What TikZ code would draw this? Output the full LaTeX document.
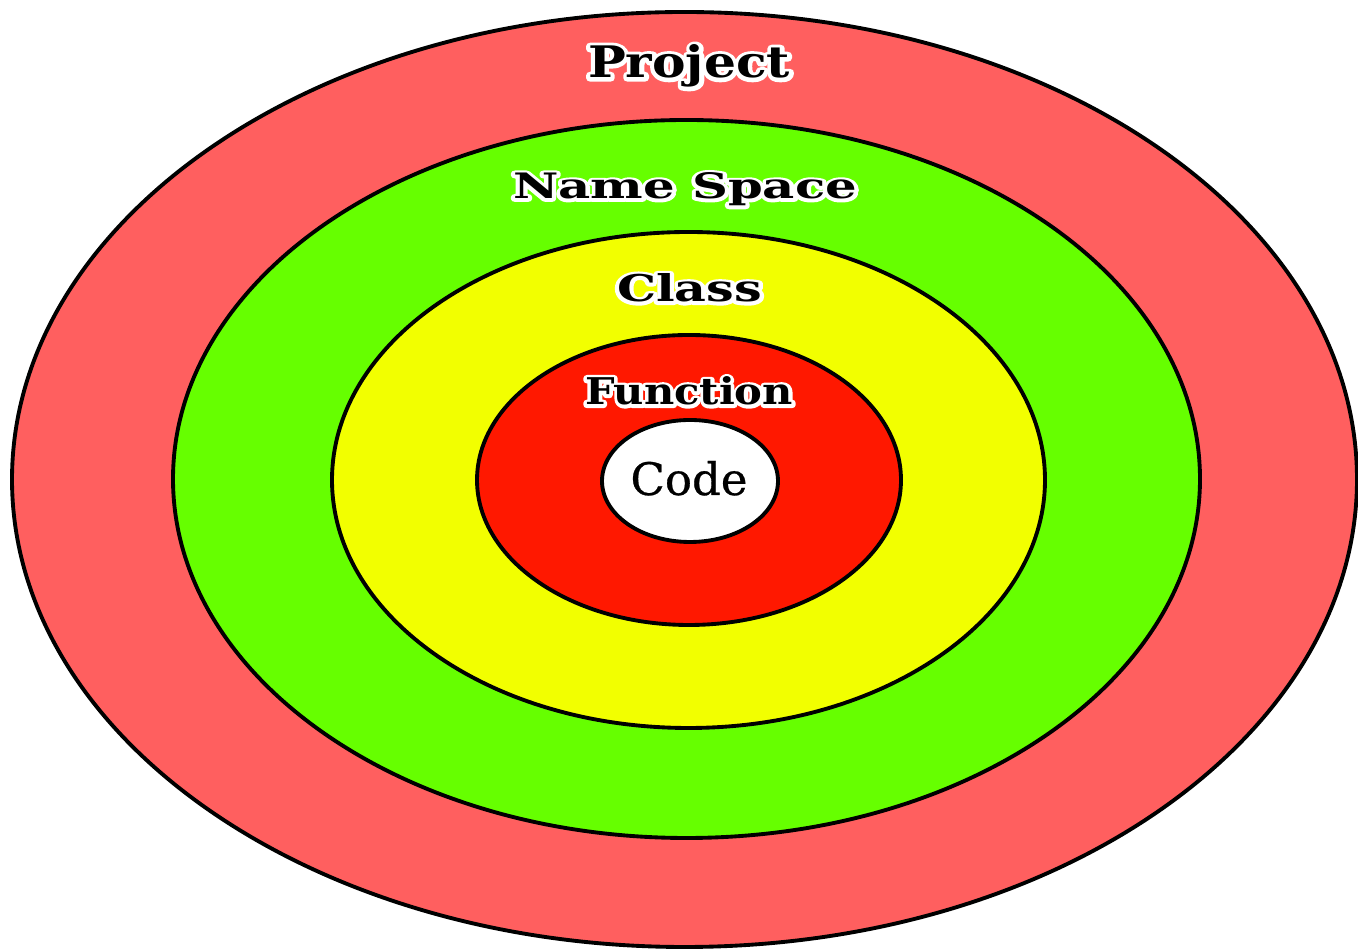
\documentclass[tikz,border=0pt]{standalone}
\usepackage{fontspec}
\setmainfont{DejaVu Serif}
\usetikzlibrary{shapes.geometric}
\definecolor{ringProject}{HTML}{FF5F5F}
\definecolor{ringSpace}{HTML}{66FF00}
\definecolor{ringClass}{HTML}{F2FF00}
\definecolor{ringFunction}{HTML}{FF1800}
\newsavebox\halobox
% white outlined copy (fill+stroke render mode) beneath the black text
\newcommand\haloed[1]{\setbox\halobox\hbox{#1}\leavevmode\rlap{\color{white}\special{pdf:literal direct q 2 Tr 1.7 w 1 j}\copy\halobox\special{pdf:literal direct Q}}\copy\halobox}
\tikzset{
  ring/.style={ellipse, draw=black, line width=1.1pt, inner sep=0pt, outer sep=0pt},
  ringlabel/.style={anchor=base, inner sep=0pt, text=black, font=\bfseries},
}
\begin{document}
\begin{tikzpicture}[x=0.1mm,y=-0.1mm]
\useasboundingbox (0,0) rectangle (1358,950);
\node[ring, fill=ringProject, minimum width=134.5mm, minimum height=93.5mm] (project) at (684.5,479.5) {};
\node[ring, fill=ringSpace, minimum width=102.7mm, minimum height=71.8mm] (namespace) at (686.5,479) {};
\node[ring, fill=ringClass, minimum width=71.3mm, minimum height=49.6mm] (class) at (688.5,480) {};
\node[ring, fill=ringFunction, minimum width=42.4mm, minimum height=29mm] (function) at (689,480) {};
\node[ring, fill=white, minimum width=17.6mm, minimum height=12.2mm] (code) at (690,481) {};
\node[ringlabel] (projectlabel) at (689,78) {\haloed{\resizebox{20.2mm}{3.3mm}{Project}}};
\node[ringlabel] (namespacelabel) at (685,199) {\haloed{\resizebox{34.4mm}{2.6mm}{Name Space}}};
\node[ringlabel] (classlabel) at (689.5,302) {\haloed{\resizebox{14.5mm}{2.8mm}{Class}}};
\node[ringlabel] (functionlabel) at (689,405) {\haloed{\resizebox{20.8mm}{2.8mm}{Function}}};
\node[anchor=base, inner sep=0pt, text=black] (codelabel) at (689,495) {\resizebox{11.7mm}{3.4mm}{\addfontfeature{FakeBold=0.6}Code}};
\end{tikzpicture}
\end{document}
